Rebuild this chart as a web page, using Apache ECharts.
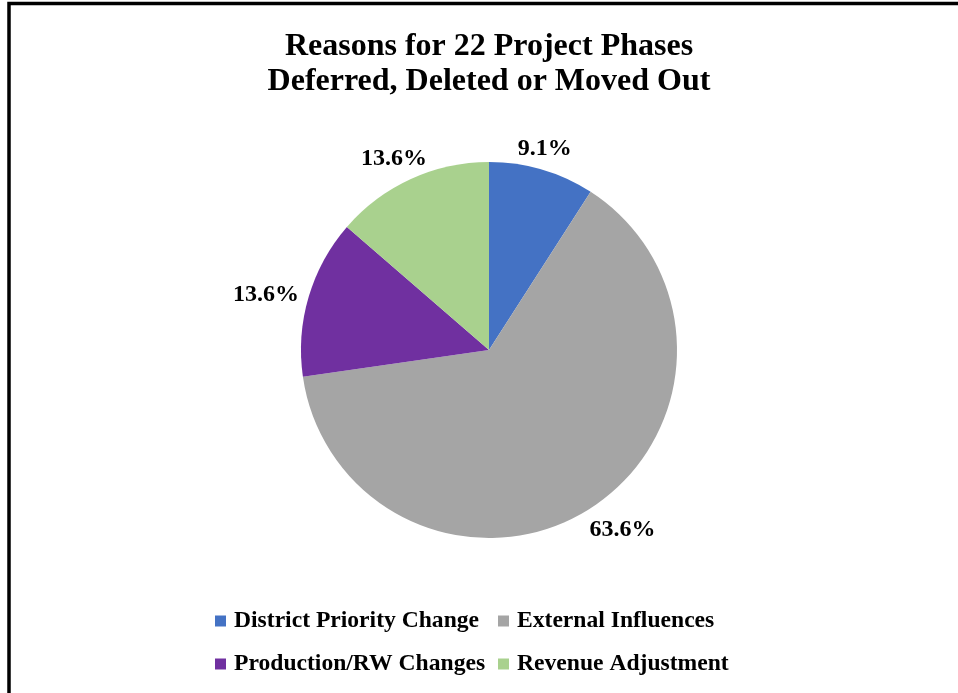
<!DOCTYPE html>
<html>
<head>
<meta charset="utf-8">
<script src="https://cdn.jsdelivr.net/npm/echarts@6/dist/echarts.min.js"></script>
<style>
  html, body { margin: 0; padding: 0; background: #fff; }
  #chart { width: 958px; height: 693px; }
</style>
</head>
<body>
<div id="chart"></div>
<script>
// Reasons for deferring, deleting or moving out project phases (count of phases)
const categories = [
  'District Priority Change',
  'External Influences',
  'Production/RW Changes',
  'Revenue Adjustment'
];
const phaseCounts = [2, 14, 3, 3];
const sliceColors = ['#4472C4', '#A5A5A5', '#7030A0', '#A9D18E'];

const titleLines = ['Reasons for 22 Project Phases', 'Deferred, Deleted or Moved Out'];

const FONT = '"Liberation Serif", "Times New Roman", serif';
const PIE_CENTER = [489, 350];
const PIE_RADIUS = 188;
const LABEL_GAP = 10;

const total = phaseCounts.reduce((a, b) => a + b, 0);

// mid angle of each slice, measured clockwise from 12 o'clock
function midAngle(idx) {
  let before = 0;
  for (let i = 0; i < idx; i++) before += phaseCounts[i];
  return (before + phaseCounts[idx] / 2) / total * Math.PI * 2;
}

// how far a label box slides outward along one axis, from 0 to 1
function slide(t) {
  const s = Math.min(1, Math.max(0, (Math.abs(t) - 0.3) / 0.3));
  return t < 0 ? -s : s;
}

const legendStyle = {
  orient: 'vertical',
  top: 609,
  padding: 0,
  itemWidth: 11,
  itemHeight: 11,
  itemGap: 19,
  icon: 'rect',
  selectedMode: false,
  itemStyle: { borderWidth: 0 },
  textStyle: {
    fontFamily: FONT,
    fontWeight: 'bold',
    fontSize: 23.6,
    lineHeight: 24,
    color: '#000',
    padding: [0, 0, 0, 3]
  }
};

const chart = echarts.init(document.getElementById('chart'), null, { renderer: 'canvas' });

chart.setOption({
  backgroundColor: '#ffffff',
  animation: false,
  color: sliceColors,
  title: {
    text: titleLines.join('\n'),
    left: PIE_CENTER[0],
    textAlign: 'center',
    top: 29,
    padding: 0,
    textStyle: {
      fontFamily: FONT,
      fontWeight: 'bold',
      fontSize: 32,
      lineHeight: 35,
      color: '#000'
    }
  },
  legend: [
    Object.assign({ data: [categories[0], categories[2]], left: 215 }, legendStyle),
    Object.assign({ data: [categories[1], categories[3]], left: 498 }, legendStyle)
  ],
  graphic: [
    {
      type: 'polyline',
      shape: { points: [[9, 700], [9, 3.5], [960, 3.5]] },
      style: { stroke: '#000', lineWidth: 3.5, fill: null }
    }
  ],
  series: [
    {
      type: 'pie',
      center: PIE_CENTER,
      radius: PIE_RADIUS,
      startAngle: 90,
      clockwise: true,
      data: categories.map((name, i) => ({ name, value: phaseCounts[i] })),
      itemStyle: { borderWidth: 0 },
      label: {
        show: true,
        position: 'outside',
        formatter: p => (p.value / total * 100).toFixed(1) + '%',
        fontFamily: FONT,
        fontWeight: 'bold',
        fontSize: 24,
        color: '#000'
      },
      labelLine: { show: false },
      labelLayout: params => {
        const a = midAngle(params.dataIndex);
        const dx = Math.sin(a), dy = -Math.cos(a);
        const w = params.labelRect.width, h = params.labelRect.height;
        const d = PIE_RADIUS + LABEL_GAP;
        return {
          x: PIE_CENTER[0] + d * dx + slide(dx) * w / 2,
          y: PIE_CENTER[1] + d * dy + slide(dy) * h / 2 + 1,
          align: 'center',
          verticalAlign: 'middle'
        };
      },
      emphasis: { disabled: true }
    }
  ]
});
</script>
</body>
</html>
